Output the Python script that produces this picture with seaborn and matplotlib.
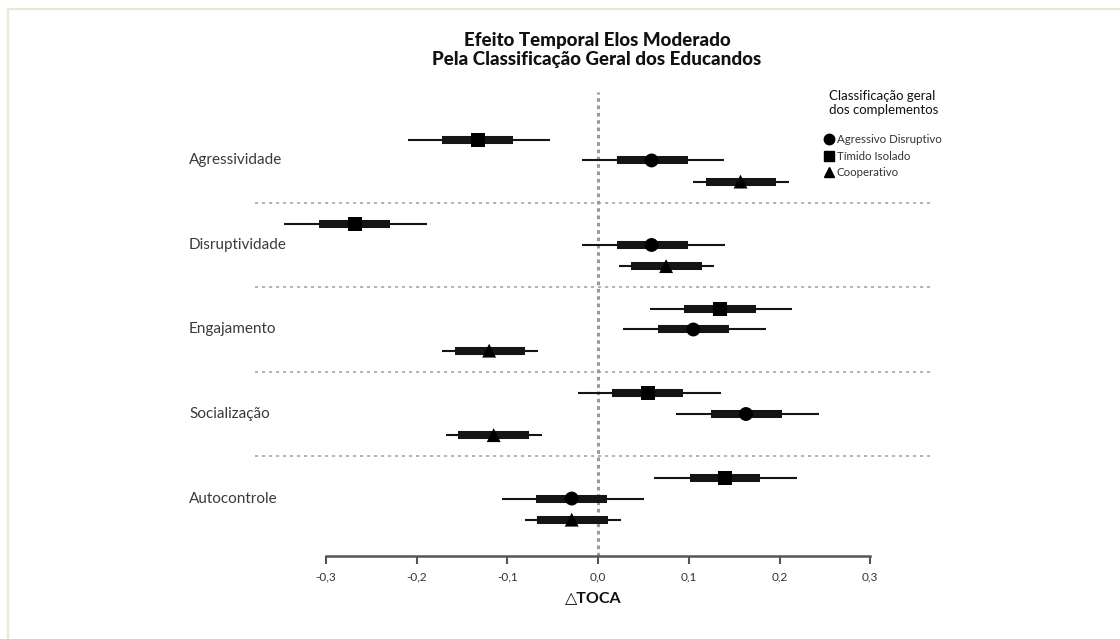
import numpy as np
import pandas as pd
import seaborn as sns
import matplotlib.pyplot as plt
from matplotlib.lines import Line2D

# values
dimensions = ["Agressividade", "Disruptividade", "Engajamento", "Socialização", "Autocontrole"]
groups = ["Tímido Isolado", "Agressivo Disruptivo", "Cooperativo"]

# estimate per dimension, one list per group
est_timido = [-0.132, -0.268, 0.134, 0.055, 0.140]
est_agressivo = [0.059, 0.059, 0.105, 0.163, -0.029]
est_cooperativo = [0.157, 0.075, -0.120, -0.115, -0.029]

# thin line (outer interval)
lo_timido = [-0.209, -0.346, 0.057, -0.022, 0.062]
hi_timido = [-0.053, -0.189, 0.214, 0.135, 0.219]
lo_agressivo = [-0.018, -0.018, 0.027, 0.086, -0.106]
hi_agressivo = [0.139, 0.140, 0.185, 0.243, 0.051]
lo_cooperativo = [0.105, 0.023, -0.172, -0.168, -0.080]
hi_cooperativo = [0.210, 0.128, -0.066, -0.062, 0.025]

# thick bar (inner interval)
ilo_timido = [-0.172, -0.307, 0.095, 0.015, 0.101]
ihi_timido = [-0.094, -0.229, 0.174, 0.094, 0.179]
ilo_agressivo = [0.021, 0.021, 0.066, 0.125, -0.068]
ihi_agressivo = [0.099, 0.099, 0.144, 0.203, 0.010]
ilo_cooperativo = [0.119, 0.036, -0.158, -0.154, -0.067]
ihi_cooperativo = [0.196, 0.115, -0.080, -0.076, 0.011]

xticks = [-0.3, -0.2, -0.1, 0.0, 0.1, 0.2, 0.3]

rows = []
series = [
    (groups[0], est_timido, lo_timido, hi_timido, ilo_timido, ihi_timido),
    (groups[1], est_agressivo, lo_agressivo, hi_agressivo, ilo_agressivo, ihi_agressivo),
    (groups[2], est_cooperativo, lo_cooperativo, hi_cooperativo, ilo_cooperativo, ihi_cooperativo),
]
offsets = {groups[0]: -0.245, groups[1]: 0.0, groups[2]: 0.25}
for g, est, lo, hi, ilo, ihi in series:
    for i, d in enumerate(dimensions):
        rows.append({"dim": d, "grupo": g, "y": i + offsets[g], "est": est[i],
                     "lo": lo[i], "hi": hi[i], "ilo": ilo[i], "ihi": ihi[i]})
df = pd.DataFrame(rows)

sns.set_theme(style="white")
plt.rcParams["font.family"] = ["Lato", "DejaVu Sans"]

fig = plt.figure(figsize=(11.2, 6.39), dpi=100)
ax = fig.add_axes([255 / 1120, 1 - 556 / 639, (932 - 255) / 1120, (556 - 92) / 639])

dark = "#151515"
ax.hlines(df["y"], df["lo"], df["hi"], color=dark, lw=1.5, zorder=3)
ax.hlines(df["y"], df["ilo"], df["ihi"], color=dark, lw=5.8, zorder=4)

markers = {groups[0]: "s", groups[1]: "o", groups[2]: "^"}
sns.scatterplot(data=df, x="est", y="y", style="grupo", markers=markers,
                color="black", s=100, linewidth=0, legend=False, zorder=5, ax=ax)

# separators and zero line
for k in range(len(dimensions) - 1):
    ax.axhline(k + 0.5, color="#b3b3b3", lw=1.4, ls=(0, (1.6, 2.0)), zorder=1)
ax.axvline(0, color="#9a9a9a", lw=2.2, ls=(0, (1.2, 1.2)), zorder=2)

ax.set_xlim(-0.378, 0.368)
ax.set_ylim(4.68, -0.81)

for i, d in enumerate(dimensions):
    ax.text(-0.4507, i, d, ha="left", va="center", fontsize=11, color="#3a3a3a", clip_on=False)

for s in ["top", "right", "left"]:
    ax.spines[s].set_visible(False)
ax.spines["bottom"].set_bounds(-0.3, 0.3)
ax.spines["bottom"].set_color("#555555")
ax.spines["bottom"].set_linewidth(1.8)
ax.set_yticks([])
ax.set_xticks(xticks)
ax.set_xticklabels([f"{t:.1f}".replace(".", ",") for t in xticks], fontsize=8.5, color="#333333")
ax.tick_params(axis="x", direction="out", length=6, width=1.5, color="#555555", pad=5, bottom=True)
ax.set_xlabel("△TOCA", fontsize=11.5, fontweight="bold", labelpad=6, color="#111111")
ax.set_ylabel("")

fig.text(597 / 1120, 1 - 50 / 639, "Efeito Temporal Elos Moderado\nPela Classificação Geral dos Educandos",
         ha="center", va="center", fontsize=13.5, fontweight="black", color="#111111", linespacing=1.12)

handles = [Line2D([], [], marker=markers[g], color="black", ls="none", markersize=7.5)
           for g in [groups[1], groups[0], groups[2]]]
leg = fig.legend(handles, [groups[1], groups[0], groups[2]], loc="upper left",
                 bbox_to_anchor=(819 / 1120, 1 - 84 / 639), frameon=False,
                 title="Classificação geral\ndos complementos", fontsize=8.3, title_fontsize=9.5,
                 handletextpad=0.25, handlelength=0.8, labelspacing=0.5, borderpad=0)
for t in leg.get_texts():
    t.set_color("#333333")
leg.get_title().set_color("#111111")
leg._legend_box.sep = 13

# faint frame on top and left
fig.add_artist(Line2D([8 / 1120, 1], [1 - 9 / 639, 1 - 9 / 639], color="#e3ecd0", lw=1.5))
fig.add_artist(Line2D([8 / 1120, 8 / 1120], [0, 1 - 9 / 639], color="#e3ecd0", lw=1.5))

fig.savefig("out.png", dpi=100)
